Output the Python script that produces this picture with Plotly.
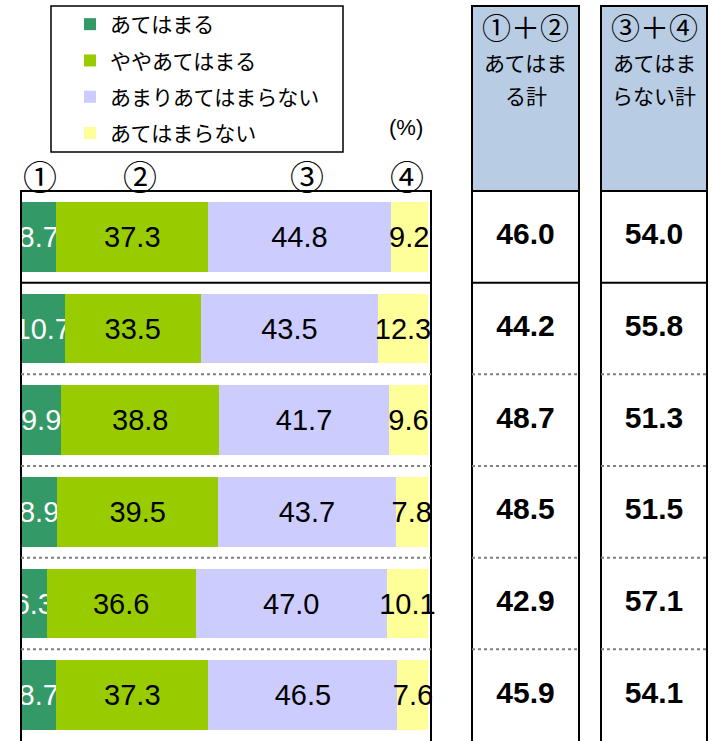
import plotly.graph_objects as go

# 行（ラベルなし、上から順）
rows = [1, 2, 3, 4, 5, 6]

# 各回答の割合（%）
atehamaru = [8.7, 10.7, 9.9, 8.9, 6.3, 8.7]
yaya = [37.3, 33.5, 38.8, 39.5, 36.6, 37.3]
amari = [44.8, 43.5, 41.7, 43.7, 47.0, 46.5]
atehamaranai = [9.2, 12.3, 9.6, 7.8, 10.1, 7.6]

# 右側の合計欄
total_12 = [46.0, 44.2, 48.7, 48.5, 42.9, 45.9]
total_34 = [54.0, 55.8, 51.3, 51.5, 57.1, 54.1]

series_names = ['あてはまる', 'ややあてはまる', 'あまりあてはまらない', 'あてはまらない']
series_vals = [atehamaru, yaya, amari, atehamaranai]
colors = ['#339966', '#99CC00', '#CCCCFF', '#FFFF99']
text_colors = ['white', 'black', 'black', 'black']

W, H = 712, 741
JP = "Noto Sans CJK JP"
NUM = "Liberation Sans, Arial"


def px(x):
    return x / W


def py(y):
    return 1 - y / H


fig = go.Figure()

# 積み上げ横棒
for i, (name, vals) in enumerate(zip(series_names, series_vals)):
    fig.add_trace(go.Bar(
        y=rows, x=vals, orientation='h', name=name,
        marker=dict(color=colors[i], line=dict(width=0)),
        width=0.76,
        text=[f"{v:.1f}" for v in vals],
        textposition='inside', insidetextanchor='middle', textangle=0,
        textfont=dict(family=NUM, size=29, color=text_colors[i]),
        legendgroup=f"g{i}",
        hoverinfo='skip',
    ))

# 合計欄の数値
fig.add_trace(go.Scatter(
    x=[0.5] * len(rows), y=rows, mode='text', xaxis='x2',
    text=[f"<b>{v:.1f}</b>" for v in total_12],
    textfont=dict(family=NUM, size=30, color='black'),
    showlegend=False, hoverinfo='skip',
))
fig.add_trace(go.Scatter(
    x=[0.5] * len(rows), y=rows, mode='text', xaxis='x3',
    text=[f"<b>{v:.1f}</b>" for v in total_34],
    textfont=dict(family=NUM, size=30, color='black'),
    showlegend=False, hoverinfo='skip',
))

shapes = []
# 凡例の枠
shapes.append(dict(type='rect', xref='paper', yref='paper',
                   x0=px(51), x1=px(343), y0=py(152), y1=py(6),
                   line=dict(color='black', width=1.5)))
# 棒グラフの枠
shapes.append(dict(type='rect', xref='paper', yref='paper',
                   x0=px(21), x1=px(431), y0=py(750), y1=py(191),
                   line=dict(color='black', width=2)))

# 合計欄の枠と見出し
for x0, x1 in [(472, 579), (601, 707)]:
    shapes.append(dict(type='rect', xref='paper', yref='paper',
                       x0=px(x0), x1=px(x1), y0=py(191), y1=py(6),
                       fillcolor='#B8CCE4', line=dict(color='black', width=2),
                       layer='below'))
    shapes.append(dict(type='rect', xref='paper', yref='paper',
                       x0=px(x0), x1=px(x1), y0=py(750), y1=py(6),
                       line=dict(color='black', width=2)))

# 行の区切り線
for x0, x1 in [(21, 431), (472, 579), (601, 707)]:
    for k, yv in enumerate([1.5, 2.5, 3.5, 4.5, 5.5]):
        if k == 0:
            line = dict(color='black', width=2)
        else:
            line = dict(color='#7f7f7f', width=2, dash='dot')
        shapes.append(dict(type='line', xref='paper', yref='y',
                           x0=px(x0), x1=px(x1), y0=yv, y1=yv, line=line))

annotations = []


def label(text, xc, yc, size, family=JP):
    annotations.append(dict(text=text, x=px(xc), y=py(yc), xref='paper', yref='paper',
                            xanchor='center', yanchor='middle', showarrow=False,
                            font=dict(family=family, size=size, color='black')))


# ①〜④
for t, xc in [('①', 40), ('②', 140), ('③', 307), ('④', 407)]:
    label(t, xc, 175, 34)
label('(%)', 406, 128, 22, NUM)

# 見出しの文字
for xc, lines in [(525.5, ['①＋②', 'あてはま', 'る計']),
                  (654, ['③＋④', 'あてはま', 'らない計'])]:
    label(lines[0], xc, 26, 29)
    label(lines[1], xc, 62, 21)
    label(lines[2], xc, 95, 21)

fig.update_layout(
    width=W, height=H,
    margin=dict(l=0, r=0, t=0, b=0),
    barmode='stack',
    paper_bgcolor='white', plot_bgcolor='rgba(0,0,0,0)',
    uniformtext=dict(minsize=29, mode='show'),
    xaxis=dict(domain=[px(21), px(21 + 103 * 4.07)], range=[0, 103], visible=False, fixedrange=True),
    xaxis2=dict(domain=[px(472), px(579)], range=[0, 1], visible=False, anchor='y'),
    xaxis3=dict(domain=[px(601), px(707)], range=[0, 1], visible=False, anchor='y'),
    yaxis=dict(domain=[0, py(191)], range=[6.5, 0.5], visible=False, fixedrange=True),
    legend=dict(x=px(70), y=py(4), xanchor='left', yanchor='top',
                font=dict(family=JP, size=21, color='black'),
                bgcolor='rgba(0,0,0,0)', borderwidth=0,
                traceorder='grouped', tracegroupgap=6),
    shapes=shapes,
    annotations=annotations,
    showlegend=True,
)

# ページ既定の余白をなくす
fig.write_html("out.html", config={'displayModeBar': False},
               post_script="document.body.style.margin='0';")
